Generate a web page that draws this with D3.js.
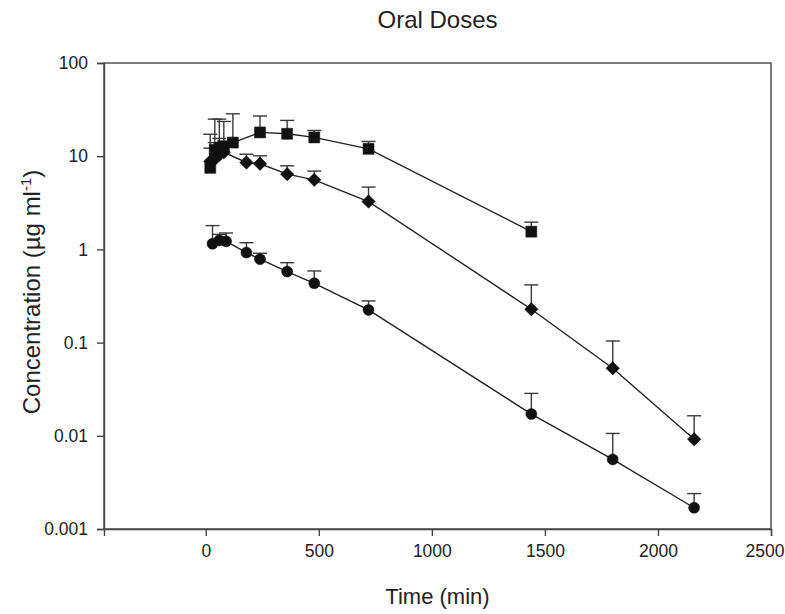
<!DOCTYPE html>
<html>
<head>
<meta charset="utf-8">
<script src="https://cdn.jsdelivr.net/npm/d3@7"></script>
<style>
  html, body { margin: 0; padding: 0; background: #fff; }
  svg { display: block; font-family: "Liberation Sans", Arial, Helvetica, sans-serif; }
</style>
</head>
<body>
<svg id="chart" width="785" height="614"></svg>
<script>
// ---- data ----
const title = "Oral Doses";
const xTitle = "Time (min)";
const xTicks = [0, 500, 1000, 1500, 2000, 2500];
const yTicks = [0.001, 0.01, 0.1, 1, 10, 100];
const yTickLabels = ["0.001", "0.01", "0.1", "1", "10", "100"];

const squareTime  = [20, 40, 60, 80, 120, 240, 360, 480, 720, 1440];
const squareValue = [7.5, 11.7, 12.2, 12.7, 14.0, 18.0, 17.4, 15.9, 12.0, 1.55];
const squareUpper = [17.2, 25.0, 25.0, 23.6, 28.5, 27.0, 24.2, 18.9, 14.4, 1.96];

const diamondTime  = [20, 40, 60, 80, 180, 240, 360, 480, 720, 1440, 1800, 2160];
const diamondValue = [8.8, 9.3, 10.4, 11.0, 8.56, 8.29, 6.42, 5.58, 3.26, 0.228, 0.053, 0.0092];
const diamondUpper = [12.2, 14.0, 15.5, 14.5, 10.5, 10.1, 7.88, 6.92, 4.66, 0.416, 0.104, 0.0164];

const circleTime  = [30, 60, 90, 180, 240, 360, 480, 720, 1440, 1800, 2160];
const circleValue = [1.15, 1.25, 1.22, 0.925, 0.785, 0.578, 0.433, 0.224, 0.0171, 0.00558, 0.00169];
const circleUpper = [1.80, 1.45, 1.50, 1.18, 0.91, 0.72, 0.587, 0.28, 0.0285, 0.0106, 0.0024];

// ---- layout ----
const svg = d3.select("#chart");
const L = 104, R = 771, T = 63, B = 529;
const x = d3.scaleLinear().domain([-450, 2500]).range([L, R]);
const y = d3.scaleLog().domain([0.001, 100]).range([B, T]);

const axisColor = "#444";

// frame
svg.append("rect")
  .attr("x", L).attr("y", T).attr("width", R - L).attr("height", B - T)
  .attr("fill", "none").attr("stroke", axisColor).attr("stroke-width", 1.4);

// x axis
const gx = svg.append("g").attr("transform", `translate(0,${B})`)
  .call(d3.axisBottom(x).tickValues(xTicks).tickSize(7).tickPadding(9).tickFormat(d3.format("d")));
// y axis
const gy = svg.append("g").attr("transform", `translate(${L},0)`)
  .call(d3.axisLeft(y).tickValues(yTicks).tickSize(7).tickPadding(9)
    .tickFormat((d, i) => yTickLabels[i]));

[gx, gy].forEach(g => {
  g.select(".domain").attr("stroke", axisColor).attr("stroke-width", 1.4);
  g.selectAll(".tick line").attr("stroke", axisColor).attr("stroke-width", 1.4);
  g.selectAll(".tick text").attr("fill", "#222").style("font-size", "17.5px")
    .style("font-family", "'Liberation Sans', Arial, sans-serif");
});
// keep the last x label inside the picture, as in the reference
gx.selectAll(".tick").filter(d => d === xTicks[xTicks.length - 1])
  .select("text").attr("text-anchor", "end").attr("x", 784 - R);

// titles
svg.append("text").attr("x", (L + R) / 2).attr("y", 28).attr("text-anchor", "middle")
  .style("font-size", "24px").attr("fill", "#222").text(title);

svg.append("text").attr("x", (L + R) / 2).attr("y", 604).attr("text-anchor", "middle")
  .style("font-size", "22px").attr("fill", "#222").text(xTitle);

const yt = svg.append("text")
  .attr("transform", `translate(40,292) rotate(-90)`)
  .attr("text-anchor", "middle").style("font-size", "24px").attr("fill", "#222");
yt.append("tspan").text("Concentration (\u00B5g ml");
yt.append("tspan").attr("dy", -9).style("font-size", "15px").text("-1");
yt.append("tspan").attr("dy", 9).text(")");

// series
const series = [
  { t: circleTime, v: circleValue, u: circleUpper, shape: "circle" },
  { t: diamondTime, v: diamondValue, u: diamondUpper, shape: "diamond" },
  { t: squareTime, v: squareValue, u: squareUpper, shape: "square" }
];

const line = d3.line().x(d => x(d.t)).y(d => y(d.v));

series.forEach(s => {
  const pts = s.t.map((t, i) => ({ t, v: s.v[i], u: s.u[i] }));
  svg.append("path").datum(pts).attr("d", line)
    .attr("fill", "none").attr("stroke", "#222").attr("stroke-width", 1.4);

  const eb = svg.append("g").attr("stroke", "#3a3a3a").attr("stroke-width", 1.4);
  eb.selectAll("line.v").data(pts).join("line")
    .attr("x1", d => x(d.t)).attr("x2", d => x(d.t))
    .attr("y1", d => y(d.v)).attr("y2", d => y(d.u));
  eb.selectAll("line.c").data(pts).join("line")
    .attr("x1", d => x(d.t) - 7).attr("x2", d => x(d.t) + 7)
    .attr("y1", d => y(d.u)).attr("y2", d => y(d.u));
});

series.forEach(s => {
  const pts = s.t.map((t, i) => ({ t, v: s.v[i] }));
  let sym, rot = 0;
  if (s.shape === "circle") sym = d3.symbol(d3.symbolCircle, 96);
  else if (s.shape === "square") sym = d3.symbol(d3.symbolSquare, 121);
  else { sym = d3.symbol(d3.symbolSquare, 90); rot = 45; }
  svg.append("g").selectAll("path").data(pts).join("path")
    .attr("d", sym)
    .attr("transform", d => `translate(${x(d.t)},${y(d.v)}) rotate(${rot})`)
    .attr("fill", "#111").attr("stroke", "#111").attr("stroke-width", 0.5);
});
</script>
</body>
</html>
